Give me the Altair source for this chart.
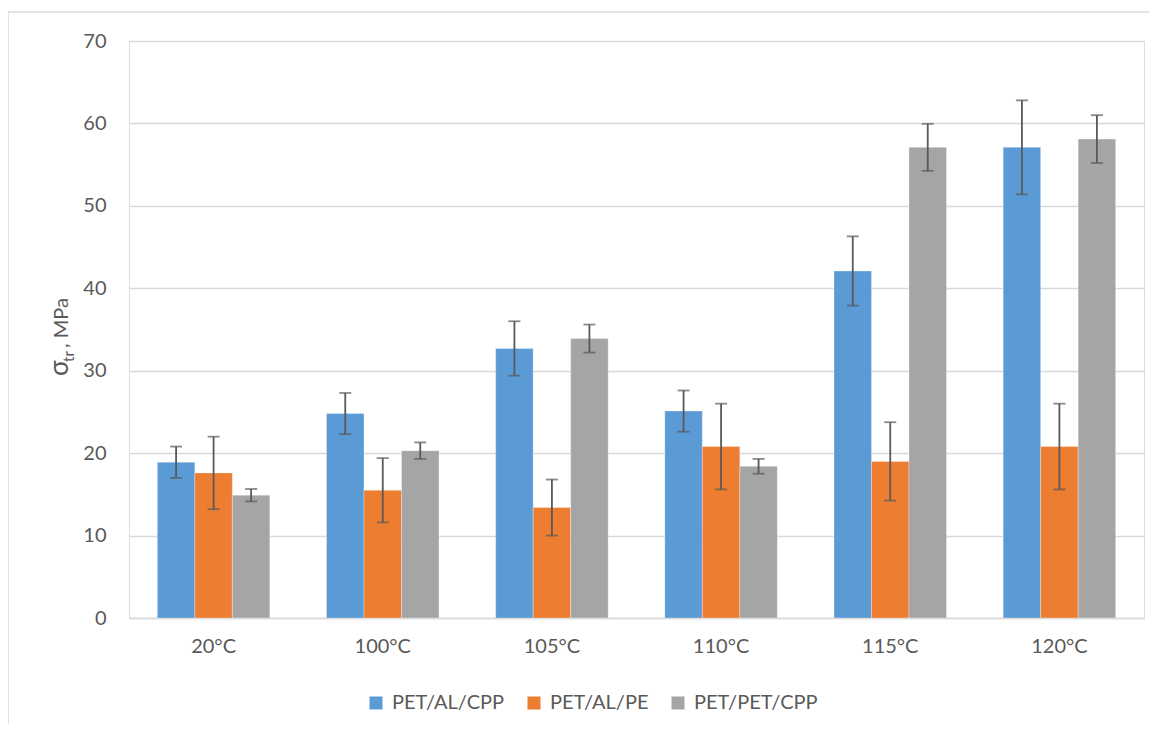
import altair as alt
import pandas as pd

categories = ["20°C", "100°C", "105°C", "110°C", "115°C", "120°C"]
series = ["PET/AL/CPP", "PET/AL/PE", "PET/PET/CPP"]
colors = ["#5B9BD5", "#ED7D31", "#A5A5A5"]

al_cpp = [18.9, 24.8, 32.7, 25.1, 42.1, 57.1]
al_cpp_err = [1.9, 2.5, 3.3, 2.5, 4.2, 5.7]
al_pe = [17.6, 15.5, 13.4, 20.8, 19.0, 20.8]
al_pe_err = [4.4, 3.9, 3.4, 5.2, 4.75, 5.2]
pet_cpp = [14.9, 20.3, 33.9, 18.4, 57.1, 58.1]
pet_cpp_err = [0.75, 1.0, 1.7, 0.9, 2.85, 2.9]

y_ticks = [0, 10, 20, 30, 40, 50, 60, 70]

rows = []
for s, vals, errs in zip(series, [al_cpp, al_pe, pet_cpp], [al_cpp_err, al_pe_err, pet_cpp_err]):
    for c, v, e in zip(categories, vals, errs):
        rows.append({"cat": c, "series": s, "value": v, "low": v - e, "high": v + e})
df = pd.DataFrame(rows)

FONT = "Lato"
TXT = "#595959"
GRID = "#D9D9D9"
ERR = "#595959"

x_enc = alt.X("cat:N", sort=categories,
              scale=alt.Scale(paddingInner=0.335, paddingOuter=0.1675),
              axis=alt.Axis(title=None, labelAngle=0, ticks=False, domainColor=GRID,
                            domainWidth=1.5, labelPadding=18, labelFontSize=20,
                            labelColor=TXT, labelFont=FONT))
xo_enc = alt.XOffset("series:N", sort=series, scale=alt.Scale(paddingInner=0, paddingOuter=0))
y_scale = alt.Scale(domain=[0, 70], nice=False)

base = alt.Chart(df).encode(x=x_enc, xOffset=xo_enc)

bars = base.mark_bar(stroke="white", strokeWidth=0.6, strokeOpacity=0.5).encode(
    y=alt.Y("value:Q", scale=y_scale,
            axis=alt.Axis(title=None, values=y_ticks, ticks=False, domain=False,
                          gridColor=GRID, gridWidth=1.5, labelPadding=23,
                          labelFontSize=20, labelColor=TXT, labelFont=FONT)),
    color=alt.Color("series:N", scale=alt.Scale(domain=series, range=colors),
                    legend=alt.Legend(title=None, orient="none", direction="horizontal",
                                      legendX=237, legendY=652, symbolType="square",
                                      symbolSize=169, symbolStrokeWidth=0,
                                      labelFontSize=20, labelColor=TXT, labelFont=FONT,
                                      labelOffset=6, columnPadding=19, padding=0)),
)

err_rule = base.mark_rule(color=ERR, strokeWidth=1.8).encode(
    y=alt.Y("low:Q", scale=y_scale), y2="high:Q")
cap_low = base.mark_tick(color=ERR, size=12, thickness=1.8).encode(
    y=alt.Y("low:Q", scale=y_scale))
cap_high = base.mark_tick(color=ERR, size=12, thickness=1.8).encode(
    y=alt.Y("high:Q", scale=y_scale))

one = pd.DataFrame({"k": [0]})
frame = alt.Chart(one).mark_rect(fill=None, stroke=GRID, strokeWidth=1.5, clip=False).encode(
    x=alt.value(-121), x2=alt.value(1040), y=alt.value(-29), y2=alt.value(800))

t_sigma = alt.Chart(one).mark_text(text="σ", angle=270, align="left", baseline="alphabetic",
                                   fontSize=26, font=FONT, color=TXT).encode(
    x=alt.value(-61), y=alt.value(335))
t_sub = alt.Chart(one).mark_text(text="tr", angle=270, align="left", baseline="alphabetic",
                                 fontSize=15, font=FONT, color=TXT).encode(
    x=alt.value(-55), y=alt.value(321))
t_unit = alt.Chart(one).mark_text(text=" , MPa", angle=270, align="left", baseline="alphabetic",
                                  fontSize=20, font=FONT, color=TXT).encode(
    x=alt.value(-61), y=alt.value(307))

chart = alt.layer(frame, bars, err_rule, cap_low, cap_high, t_sigma, t_sub, t_unit).properties(
    width=1015, height=577,
    autosize=alt.AutoSizeParams(type="none"),
    padding={"left": 121, "top": 33, "right": 5, "bottom": 106},
).configure_view(stroke=None).configure(background="white")

chart.save("out.html", embed_options={"renderer": "svg", "actions": False})
